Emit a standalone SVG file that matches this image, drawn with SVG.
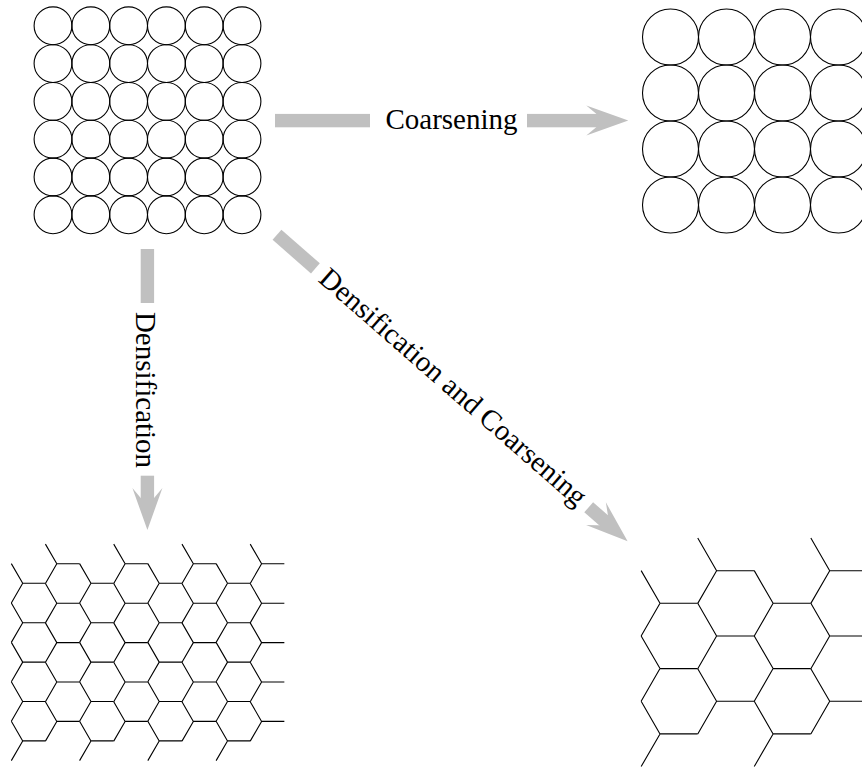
<svg xmlns="http://www.w3.org/2000/svg" xmlns:xlink="http://www.w3.org/1999/xlink" width="862" height="767" viewBox="0 0 862 767">
<style>
.c{fill:none;stroke:#000;stroke-width:1.1}
.h{fill:none;stroke:#000;stroke-width:1.1}
.bar{fill:#c0c0c0}
.lbl{font-family:"Liberation Serif","Times New Roman",serif;font-size:29px;fill:#000;text-anchor:middle}
</style>
<defs>
<circle id="cs" r="18.9" class="c"/>
<circle id="cl" r="28" class="c"/>
<path id="ys" class="h" d="M0,0 h22.75 M0,0 l-11.375,-19.7 M0,0 l-11.375,19.7"/>
<path id="yl" class="h" d="M0,0 h37.7 M0,0 l-18.85,-32.65 M0,0 l-18.85,32.65"/>
<polygon id="head" class="bar" points="-42,-15 0,0 -42,15 -24,0"/>
</defs>
<rect width="862" height="767" fill="#fff"/>

<g id="fine-packing">
<use href="#cs" x="53" y="25.8"/><use href="#cs" x="90.8" y="25.8"/><use href="#cs" x="128.6" y="25.8"/><use href="#cs" x="166.4" y="25.8"/><use href="#cs" x="204.2" y="25.8"/><use href="#cs" x="242" y="25.8"/>
<use href="#cs" x="53" y="63.6"/><use href="#cs" x="90.8" y="63.6"/><use href="#cs" x="128.6" y="63.6"/><use href="#cs" x="166.4" y="63.6"/><use href="#cs" x="204.2" y="63.6"/><use href="#cs" x="242" y="63.6"/>
<use href="#cs" x="53" y="101.4"/><use href="#cs" x="90.8" y="101.4"/><use href="#cs" x="128.6" y="101.4"/><use href="#cs" x="166.4" y="101.4"/><use href="#cs" x="204.2" y="101.4"/><use href="#cs" x="242" y="101.4"/>
<use href="#cs" x="53" y="139.2"/><use href="#cs" x="90.8" y="139.2"/><use href="#cs" x="128.6" y="139.2"/><use href="#cs" x="166.4" y="139.2"/><use href="#cs" x="204.2" y="139.2"/><use href="#cs" x="242" y="139.2"/>
<use href="#cs" x="53" y="177"/><use href="#cs" x="90.8" y="177"/><use href="#cs" x="128.6" y="177"/><use href="#cs" x="166.4" y="177"/><use href="#cs" x="204.2" y="177"/><use href="#cs" x="242" y="177"/>
<use href="#cs" x="53" y="214.8"/><use href="#cs" x="90.8" y="214.8"/><use href="#cs" x="128.6" y="214.8"/><use href="#cs" x="166.4" y="214.8"/><use href="#cs" x="204.2" y="214.8"/><use href="#cs" x="242" y="214.8"/>
</g>

<g id="coarse-packing">
<use href="#cl" x="670.5" y="37"/><use href="#cl" x="726.5" y="37"/><use href="#cl" x="782.5" y="37"/><use href="#cl" x="838.5" y="37"/>
<use href="#cl" x="670.5" y="93"/><use href="#cl" x="726.5" y="93"/><use href="#cl" x="782.5" y="93"/><use href="#cl" x="838.5" y="93"/>
<use href="#cl" x="670.5" y="149"/><use href="#cl" x="726.5" y="149"/><use href="#cl" x="782.5" y="149"/><use href="#cl" x="838.5" y="149"/>
<use href="#cl" x="670.5" y="205"/><use href="#cl" x="726.5" y="205"/><use href="#cl" x="782.5" y="205"/><use href="#cl" x="838.5" y="205"/>
</g>

<g id="fine-foam">
<use href="#ys" x="22.7" y="583.3"/><use href="#ys" x="22.7" y="622.7"/><use href="#ys" x="22.7" y="662.1"/><use href="#ys" x="22.7" y="701.5"/><use href="#ys" x="22.7" y="740.9"/>
<use href="#ys" x="56.8" y="563.8"/><use href="#ys" x="56.8" y="603.2"/><use href="#ys" x="56.8" y="642.6"/><use href="#ys" x="56.8" y="682"/><use href="#ys" x="56.8" y="721.4"/>
<use href="#ys" x="90.95" y="583.3"/><use href="#ys" x="90.95" y="622.7"/><use href="#ys" x="90.95" y="662.1"/><use href="#ys" x="90.95" y="701.5"/><use href="#ys" x="90.95" y="740.9"/>
<use href="#ys" x="125.1" y="563.8"/><use href="#ys" x="125.1" y="603.2"/><use href="#ys" x="125.1" y="642.6"/><use href="#ys" x="125.1" y="682"/><use href="#ys" x="125.1" y="721.4"/>
<use href="#ys" x="159.2" y="583.3"/><use href="#ys" x="159.2" y="622.7"/><use href="#ys" x="159.2" y="662.1"/><use href="#ys" x="159.2" y="701.5"/><use href="#ys" x="159.2" y="740.9"/>
<use href="#ys" x="193.35" y="563.8"/><use href="#ys" x="193.35" y="603.2"/><use href="#ys" x="193.35" y="642.6"/><use href="#ys" x="193.35" y="682"/><use href="#ys" x="193.35" y="721.4"/>
<use href="#ys" x="227.5" y="583.3"/><use href="#ys" x="227.5" y="622.7"/><use href="#ys" x="227.5" y="662.1"/><use href="#ys" x="227.5" y="701.5"/><use href="#ys" x="227.5" y="740.9"/>
<use href="#ys" x="261.6" y="563.8"/><use href="#ys" x="261.6" y="603.2"/><use href="#ys" x="261.6" y="642.6"/><use href="#ys" x="261.6" y="682"/><use href="#ys" x="261.6" y="721.4"/>
</g>

<g id="coarse-foam">
<use href="#yl" x="660" y="603.3"/><use href="#yl" x="660" y="668.6"/><use href="#yl" x="660" y="733.9"/>
<use href="#yl" x="716.6" y="570.7"/><use href="#yl" x="716.6" y="636"/><use href="#yl" x="716.6" y="701.3"/>
<use href="#yl" x="773.1" y="603.3"/><use href="#yl" x="773.1" y="668.6"/><use href="#yl" x="773.1" y="733.9"/>
<use href="#yl" x="829.7" y="570.7"/><use href="#yl" x="829.7" y="636"/><use href="#yl" x="829.7" y="701.3"/>
</g>

<g id="connectors">
<g id="arrow-coarsening">
<rect class="bar" x="275" y="113.9" width="95" height="13.4"/>
<rect class="bar" x="527" y="113.9" width="78" height="13.4"/>
<use href="#head" transform="translate(628.3,120.6)"/>
<text class="lbl" x="451.5" y="128.5">Coarsening</text>
</g>
<g id="arrow-densification">
<rect class="bar" x="140.7" y="249" width="13.4" height="54"/>
<rect class="bar" x="140.7" y="475.7" width="13.4" height="32"/>
<use href="#head" transform="translate(147.4,530) rotate(90)"/>
<text class="lbl" transform="translate(147.4,390) rotate(90)" x="0" y="11">Densification</text>
</g>
<g id="arrow-both" transform="translate(277,234.8) rotate(41.16)">
<rect class="bar" x="0" y="-6.7" width="51" height="13.4"/>
<rect class="bar" x="414" y="-6.7" width="30" height="13.4"/>
<use href="#head" transform="translate(465.7,0)"/>
<text class="lbl" x="232.85" y="8">Densification and Coarsening</text>
</g>
</g>
</svg>
